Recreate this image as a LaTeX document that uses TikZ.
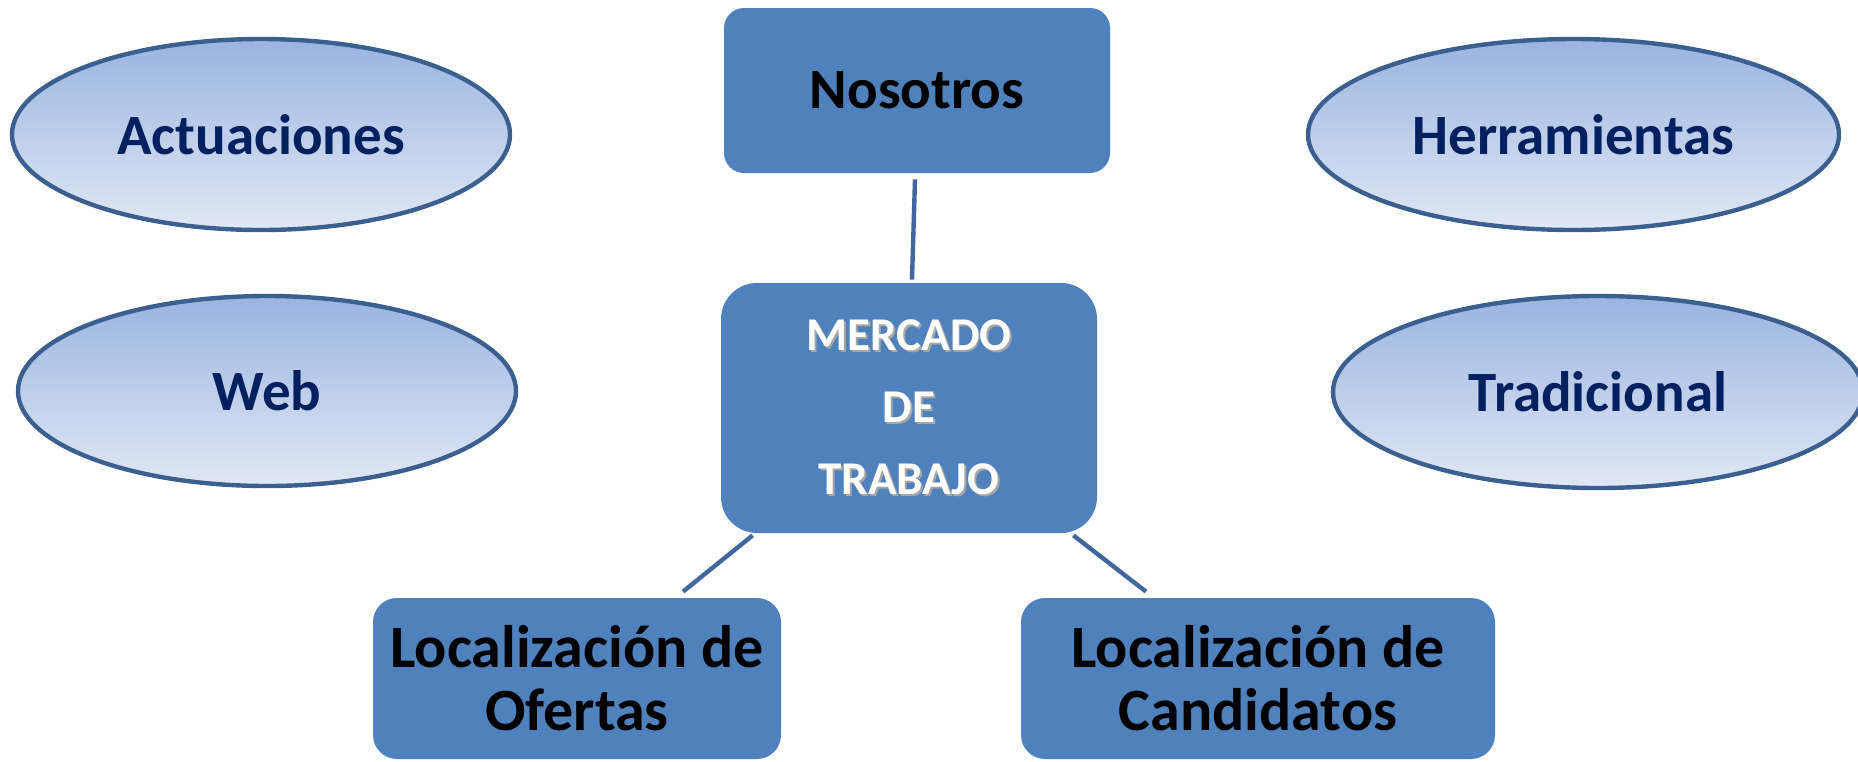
\documentclass[tikz,border=0pt]{standalone}
\usepackage{fontspec}
\setmainfont{Carlito}
\usetikzlibrary{shapes.geometric}
\definecolor{azulcaja}{HTML}{4F81BD}
\definecolor{bordeglobo}{HTML}{3B5F8F}
\definecolor{azullinea}{HTML}{41679E}
\definecolor{globoarriba}{HTML}{9AB4E0}
\definecolor{globomedio}{HTML}{BBCBEA}
\definecolor{globoabajo}{HTML}{E1E8F5}
\definecolor{azultexto}{HTML}{002060}
\newcommand{\sombra}[1]{\leavevmode\rlap{\kern0.9pt\raisebox{-0.9pt}{\textcolor{black!35}{#1}}}#1}
\tikzset{
  caja/.style={fill=azulcaja, inner sep=0pt, align=center, text=black},
  globo/.style={ellipse, draw=bordeglobo, line width=2.2pt, top color=globoarriba, middle color=globomedio, bottom color=globoabajo, inner sep=0pt, text=azultexto, font=\bfseries\fontsize{28.5}{34}\selectfont},
  enlace/.style={draw=azullinea, line width=2.2pt}
}
\begin{document}
\begin{tikzpicture}[x=0.5pt,y=-0.5pt]
	\useasboundingbox (0,0) rectangle (1858,761);
	\node[caja, rounded corners=10pt, minimum width=193pt, minimum height=82.5pt, font=\bfseries\fontsize{28.5}{34}\selectfont] (nos) at (917,90.5) {Nosotros};
	\node[caja, rounded corners=18pt, minimum width=188pt, minimum height=125pt, text=white, font=\bfseries\fontsize{23.5}{36}\selectfont] (mer) at (909,408) {\sombra{MERCADO}\\\sombra{DE}\\\sombra{TRABAJO}};
	\node[caja, rounded corners=12pt, minimum width=204pt, minimum height=80.5pt, font=\bfseries\fontsize{30}{31.5}\selectfont] (ofe) at (577,678.5) {Localización de\\Ofertas};
	\node[caja, rounded corners=12pt, minimum width=237pt, minimum height=80.5pt, font=\bfseries\fontsize{30}{31.5}\selectfont] (can) at (1258,678.5) {Localización de\\Candidatos};
	\node[globo, minimum width=249pt, minimum height=95.5pt] (act) at (261,134.5) {Actuaciones};
	\node[globo, minimum width=249pt, minimum height=95pt] (web) at (267,391) {Web};
	\node[globo, minimum width=265.5pt, minimum height=95.5pt] (her) at (1573.5,134.5) {Herramientas};
	\node[globo, minimum width=265pt, minimum height=96pt] (tra) at (1598,392) {Tradicional};
	\draw[enlace] ([shift={(-2,6)}]nos.south) -- ([shift={(3,-3)}]mer.north);
	\draw[enlace] ([shift={(32,2)}]mer.south west) -- ([shift={(106,-6)}]ofe.north);
	\draw[enlace] ([shift={(-24,2)}]mer.south east) -- ([shift={(-112,-6)}]can.north);
\end{tikzpicture}
\end{document}
